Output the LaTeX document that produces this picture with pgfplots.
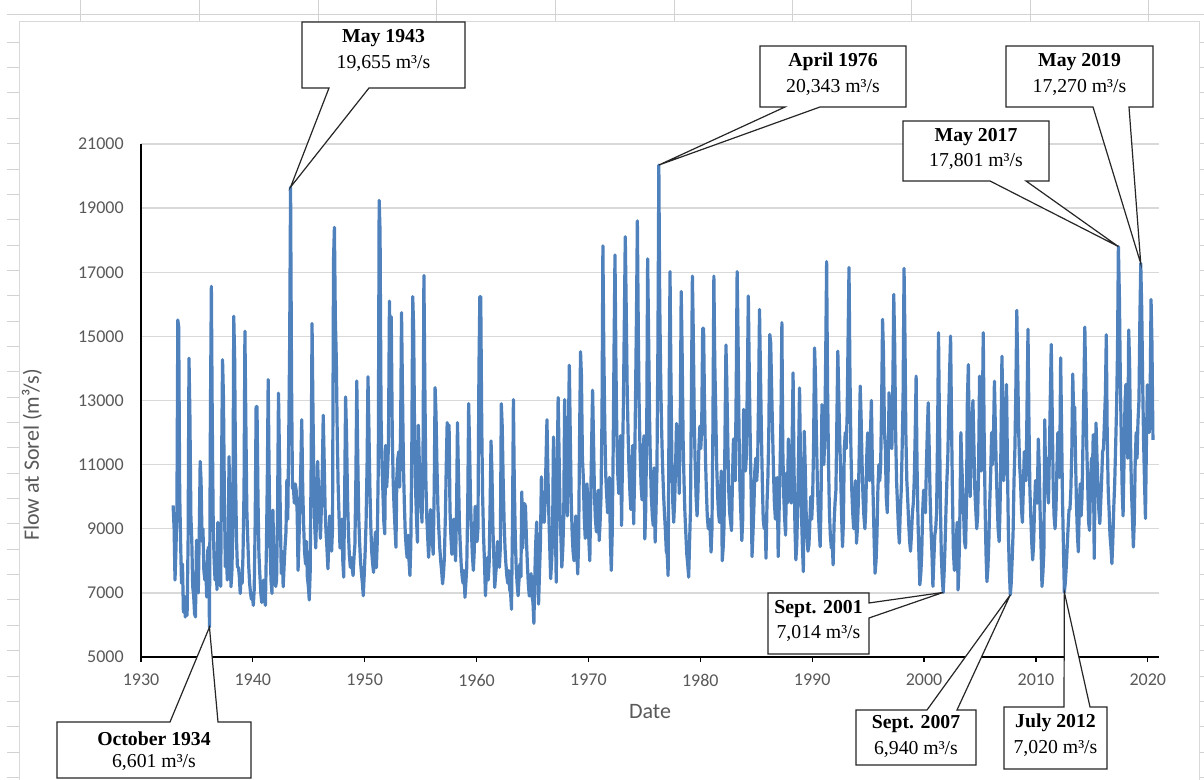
\documentclass[border=0pt]{standalone}
\usepackage{fontspec}
\setmainfont{Carlito}
\newfontfamily\tnr{Liberation Serif}
\usepackage{pgfplots}
\pgfplotsset{compat=1.18}
\definecolor{excelblue}{RGB}{79,129,189}
\definecolor{txtgray}{RGB}{89,89,89}
\definecolor{gridgray}{RGB}{217,217,217}
\definecolor{sheetgray}{RGB}{210,210,210}
\tikzset{callout/.style={draw=black!85, fill=white, line width=0.9pt, line join=miter},
  cotext/.style={font=\tnr\fontsize{14.8}{17}\selectfont, inner sep=0pt}}
\begin{document}
\begin{tikzpicture}[x=0.75pt,y=0.75pt]
\clip (0,0) rectangle (1204,780);
\fill[white] (0,0) rectangle (1204,780);
% spreadsheet cells behind the chart
\draw[sheetgray, line width=0.75pt] (7,765) -- (1204,765);
\foreach \cx in {80.7,199.3,318,436.7,555.3,674,792.7,911.3,1030,1148.7}
  {\draw[sheetgray, line width=0.75pt] (\cx,780) -- (\cx,758);}
\foreach \k in {0,...,29}
  {\pgfmathsetmacro{\ry}{737.7-25.35*\k}
   \draw[sheetgray, line width=0.75pt] (7,\ry) -- (19.5,\ry);
   \draw[sheetgray, line width=0.75pt] (1199,\ry) -- (1204,\ry);}
% chart area
\draw[gridgray, line width=0.75pt, fill=white] (19.5,-5) rectangle (1199,758.3);

\begin{axis}[
  at={(105.75pt,92.25pt)}, anchor=south west,
  scale only axis, width=763.5pt, height=384.75pt,
  xmin=1930, xmax=2021, ymin=5000, ymax=21000,
  axis x line*=bottom, axis y line*=left,
  axis line style={black, line width=0.9pt},
  xtick={1930,1940,...,2020}, ytick={5000,7000,...,21000},
  scaled y ticks=false, scaled x ticks=false,
  xtick align=outside, ytick align=inside,
  major tick length=3.75pt,
  ytick style={draw=none},
  xtick style={black, line width=0.9pt},
  ymajorgrids, grid style={gridgray, line width=1pt},
  /pgf/number format/1000 sep={},
  /pgf/number format/assume math mode=true,
  tick label style={font=\fontsize{13.5}{16}\selectfont, color=txtgray},
  yticklabel style={inner sep=0pt, xshift=-12.75pt},
  xticklabel style={inner sep=0pt, yshift=-9pt},
]
\addplot[excelblue, line width=2.4pt, line join=round, mark=none] coordinates {
(1932.87,9730)(1932.96,9000)
(1933.04,7400)(1933.12,8300)(1933.21,9500)(1933.29,15510)(1933.37,15300)(1933.46,10100)(1933.54,8600)(1933.62,7300)(1933.71,7900)(1933.79,6400)(1933.87,6900)(1933.96,6250)
(1934.04,6500)(1934.12,6300)(1934.21,8600)(1934.29,14320)(1934.37,12600)(1934.46,9400)(1934.54,8640)(1934.62,7200)(1934.71,6900)(1934.79,6350)(1934.87,6250)(1934.96,8640)
(1935.04,7600)(1935.12,7000)(1935.21,8900)(1935.29,11100)(1935.37,10500)(1935.46,8600)(1935.54,9000)(1935.62,7700)(1935.71,7400)(1935.79,7900)(1935.87,6870)(1935.96,8300)
(1936.04,8430)(1936.12,5930)(1936.21,12810)(1936.29,16560)(1936.37,12400)(1936.46,9000)(1936.54,8000)(1936.62,7400)(1936.71,8200)(1936.79,7100)(1936.87,9200)(1936.96,8100)
(1937.04,7600)(1937.12,7200)(1937.21,11250)(1937.29,14270)(1937.37,13120)(1937.46,9800)(1937.54,7810)(1937.62,8600)(1937.71,7400)(1937.79,8200)(1937.87,11250)(1937.96,9000)
(1938.04,7190)(1938.12,7600)(1938.21,9000)(1938.29,15630)(1938.37,14380)(1938.46,10400)(1938.54,8640)(1938.62,7800)(1938.71,7800)(1938.79,7500)(1938.87,6980)(1938.96,7600)
(1939.04,7300)(1939.12,8200)(1939.21,10200)(1939.29,15160)(1939.37,12400)(1939.46,9580)(1939.54,8700)(1939.62,7900)(1939.71,7300)(1939.79,7000)(1939.87,6800)(1939.96,6900)
(1940.04,6610)(1940.12,7100)(1940.21,9300)(1940.29,12810)(1940.37,12810)(1940.46,9900)(1940.54,8220)(1940.62,7600)(1940.71,7000)(1940.79,6700)(1940.87,7000)(1940.96,7400)
(1941.04,6800)(1941.12,6610)(1941.21,8400)(1941.29,10500)(1941.37,13650)(1941.46,10520)(1941.54,8400)(1941.62,7400)(1941.71,6980)(1941.79,9580)(1941.87,8200)(1941.96,7500)
(1942.04,7200)(1942.12,7400)(1942.21,9600)(1942.29,13230)(1942.37,11500)(1942.46,9300)(1942.54,7600)(1942.62,8300)(1942.71,7190)(1942.79,7800)(1942.87,8400)(1942.96,8900)
(1943.04,10520)(1943.12,9300)(1943.21,12000)(1943.29,14790)(1943.37,19655)(1943.46,13500)(1943.54,10260)(1943.62,10300)(1943.71,9800)(1943.79,10400)(1943.87,10200)(1943.96,9500)
(1944.04,7700)(1944.12,8600)(1944.21,9800)(1944.29,11000)(1944.37,12400)(1944.46,10200)(1944.54,9100)(1944.62,8300)(1944.71,7900)(1944.79,8600)(1944.87,7500)(1944.96,7200)
(1945.04,6780)(1945.12,7600)(1945.21,11000)(1945.29,15400)(1945.37,12800)(1945.46,10200)(1945.54,9000)(1945.62,8400)(1945.71,9600)(1945.79,11100)(1945.87,10200)(1945.96,9400)
(1946.04,8700)(1946.12,9600)(1946.21,10800)(1946.29,12540)(1946.37,11200)(1946.46,9600)(1946.54,8900)(1946.62,8400)(1946.71,7750)(1946.79,8600)(1946.87,9400)(1946.96,8800)
(1947.04,8300)(1947.12,9000)(1947.21,17400)(1947.29,18400)(1947.37,15600)(1947.46,14270)(1947.54,12000)(1947.62,10400)(1947.71,9300)(1947.79,8400)(1947.87,8700)(1947.96,9300)
(1948.04,8000)(1948.12,7490)(1948.21,10200)(1948.29,13110)(1948.37,12000)(1948.46,10000)(1948.54,8900)(1948.62,8200)(1948.71,7800)(1948.79,8100)(1948.87,7800)(1948.96,7540)
(1949.04,8100)(1949.12,8500)(1949.21,10600)(1949.29,13610)(1949.37,11400)(1949.46,9400)(1949.54,8600)(1949.62,8000)(1949.71,7600)(1949.79,7300)(1949.87,6910)(1949.96,7600)
(1950.04,8300)(1950.12,9200)(1950.21,11000)(1950.29,13740)(1950.37,12200)(1950.46,10300)(1950.54,9100)(1950.62,8300)(1950.71,7900)(1950.79,7640)(1950.87,8400)(1950.96,8900)
(1951.04,7790)(1951.12,8600)(1951.21,10900)(1951.29,19240)(1951.37,18270)(1951.46,12500)(1951.54,11000)(1951.62,10200)(1951.71,9200)(1951.79,8840)(1951.87,11600)(1951.96,10300)
(1952.04,10800)(1952.12,11600)(1952.21,16100)(1952.29,14200)(1952.37,15610)(1952.46,12000)(1952.54,10500)(1952.62,9700)(1952.71,9000)(1952.79,8420)(1952.87,10600)(1952.96,11200)
(1953.04,11400)(1953.12,10300)(1953.21,12200)(1953.29,15740)(1953.37,13400)(1953.46,11000)(1953.54,9800)(1953.62,8900)(1953.71,8400)(1953.79,8100)(1953.87,8800)(1953.96,8000)
(1954.04,7540)(1954.12,8500)(1954.21,11600)(1954.29,16240)(1954.37,15300)(1954.46,11800)(1954.54,10300)(1954.62,9400)(1954.71,8580)(1954.79,12230)(1954.87,11200)(1954.96,10400)
(1955.04,9800)(1955.12,9200)(1955.21,11200)(1955.29,16900)(1955.37,13600)(1955.46,10600)(1955.54,9400)(1955.62,8800)(1955.71,8110)(1955.79,8700)(1955.87,9600)(1955.96,9200)
(1956.04,8700)(1956.12,8200)(1956.21,10200)(1956.29,13400)(1956.37,12600)(1956.46,10900)(1956.54,9700)(1956.62,9000)(1956.71,8400)(1956.79,8000)(1956.87,7700)(1956.96,7280)
(1957.04,7600)(1957.12,8100)(1957.21,9400)(1957.29,11000)(1957.37,12310)(1957.46,10600)(1957.54,12230)(1957.62,9600)(1957.71,8700)(1957.79,8200)(1957.87,8800)(1957.96,9300)
(1958.04,8600)(1958.12,8000)(1958.21,9600)(1958.29,12310)(1958.37,10800)(1958.46,9200)(1958.54,8500)(1958.62,7900)(1958.71,7500)(1958.79,7300)(1958.87,7700)(1958.96,6860)
(1959.04,7300)(1959.12,7800)(1959.21,9800)(1959.29,12900)(1959.37,11600)(1959.46,9800)(1959.54,8900)(1959.62,8200)(1959.71,7700)(1959.79,8300)(1959.87,9700)(1959.96,9100)
(1960.04,8600)(1960.12,9000)(1960.21,14000)(1960.29,16240)(1960.37,16240)(1960.46,12200)(1960.54,10000)(1960.62,8800)(1960.71,7900)(1960.79,6910)(1960.87,7600)(1960.96,8100)
(1961.04,7400)(1961.12,7900)(1961.21,9800)(1961.29,11740)(1961.37,10800)(1961.46,9000)(1961.54,8100)(1961.62,7170)(1961.71,7600)(1961.79,7900)(1961.87,8600)(1961.96,8200)
(1962.04,7800)(1962.12,8400)(1962.21,12900)(1962.29,12200)(1962.37,10600)(1962.46,9200)(1962.54,8400)(1962.62,7900)(1962.71,7500)(1962.79,7300)(1962.87,7700)(1962.96,7100)
(1963.04,7000)(1963.12,6490)(1963.21,9200)(1963.29,13030)(1963.37,10400)(1963.46,8700)(1963.54,7800)(1963.62,7300)(1963.71,6910)(1963.79,7400)(1963.87,7900)(1963.96,7500)
(1964.04,10150)(1964.12,8400)(1964.21,9780)(1964.29,9780)(1964.37,9700)(1964.46,8600)(1964.54,7900)(1964.62,7300)(1964.71,6900)(1964.79,7200)(1964.87,7600)(1964.96,6900)
(1965.04,6700)(1965.12,6050)(1965.21,7600)(1965.29,8600)(1965.37,9210)(1965.46,7800)(1965.54,6650)(1965.62,7600)(1965.71,8600)(1965.79,10620)(1965.87,9200)(1965.96,9700)
(1966.04,9200)(1966.12,9800)(1966.21,11200)(1966.29,12400)(1966.37,10800)(1966.46,9400)(1966.54,8400)(1966.62,7440)(1966.71,8000)(1966.79,8700)(1966.87,11860)(1966.96,10300)
(1967.04,9100)(1967.12,7330)(1967.21,11000)(1967.29,13090)(1967.37,11400)(1967.46,9500)(1967.54,8700)(1967.62,7800)(1967.71,8400)(1967.79,9400)(1967.87,13030)(1967.96,11000)
(1968.04,10200)(1968.12,9400)(1968.21,12200)(1968.29,14100)(1968.37,12000)(1968.46,9900)(1968.54,8900)(1968.62,8300)(1968.71,8000)(1968.79,8700)(1968.87,9400)(1968.96,8300)
(1969.04,7590)(1969.12,8600)(1969.21,12000)(1969.29,14520)(1969.37,13800)(1969.46,11200)(1969.54,10600)(1969.62,9400)(1969.71,8700)(1969.79,9300)(1969.87,10400)(1969.96,9500)
(1970.04,8600)(1970.12,8000)(1970.21,10100)(1970.29,11800)(1970.37,13320)(1970.46,11600)(1970.54,10000)(1970.62,9300)(1970.71,8900)(1970.79,9500)(1970.87,10200)(1970.96,8630)
(1971.04,9200)(1971.12,10000)(1971.21,12500)(1971.29,17820)(1971.37,14600)(1971.46,12200)(1971.54,10700)(1971.62,10100)(1971.71,9500)(1971.79,9800)(1971.87,10600)(1971.96,8600)
(1972.04,7700)(1972.12,8800)(1972.21,11500)(1972.29,14730)(1972.37,17540)(1972.46,14000)(1972.54,11800)(1972.62,10700)(1972.71,10100)(1972.79,10600)(1972.87,11900)(1972.96,9100)
(1973.04,11200)(1973.12,12800)(1973.21,15600)(1973.29,18110)(1973.37,16000)(1973.46,13400)(1973.54,12000)(1973.62,10900)(1973.71,10100)(1973.79,9600)(1973.87,10900)(1973.96,11600)
(1974.04,9150)(1974.12,10600)(1974.21,13200)(1974.29,15600)(1974.37,18600)(1974.46,15000)(1974.54,12600)(1974.62,11300)(1974.71,10300)(1974.79,9900)(1974.87,11200)(1974.96,11900)
(1975.04,8680)(1975.12,9600)(1975.21,12200)(1975.29,17420)(1975.37,15200)(1975.46,12500)(1975.54,11000)(1975.62,10000)(1975.71,9400)(1975.79,9100)(1975.87,10900)(1975.96,8580)
(1976.04,9600)(1976.12,10800)(1976.21,14800)(1976.29,20343)(1976.37,16100)(1976.46,13600)(1976.54,12100)(1976.62,11000)(1976.71,10100)(1976.79,9500)(1976.87,9000)(1976.96,8300)
(1977.04,8200)(1977.12,7540)(1977.21,13000)(1977.29,17020)(1977.37,13800)(1977.46,11000)(1977.54,9800)(1977.62,9200)(1977.71,9900)(1977.79,11000)(1977.87,12280)(1977.96,11900)
(1978.04,11100)(1978.12,10100)(1978.21,12600)(1978.29,16400)(1978.37,14600)(1978.46,11800)(1978.54,10500)(1978.62,9500)(1978.71,8800)(1978.79,8200)(1978.87,7900)(1978.96,7490)
(1979.04,8600)(1979.12,9600)(1979.21,13600)(1979.29,16880)(1979.37,15100)(1979.46,12300)(1979.54,11000)(1979.62,10000)(1979.71,9400)(1979.79,10200)(1979.87,11500)(1979.96,12200)
(1980.04,11500)(1980.12,12100)(1980.21,15250)(1980.29,15250)(1980.37,13000)(1980.46,11200)(1980.54,10200)(1980.62,9400)(1980.71,9000)(1980.79,9300)(1980.87,9000)(1980.96,8270)
(1981.04,9000)(1981.12,12000)(1981.21,16880)(1981.29,14200)(1981.37,12800)(1981.46,11000)(1981.54,10100)(1981.62,9500)(1981.71,9200)(1981.79,9900)(1981.87,10800)(1981.96,8000)
(1982.04,8400)(1982.12,9100)(1982.21,12100)(1982.29,14730)(1982.37,13500)(1982.46,11600)(1982.54,10200)(1982.62,9500)(1982.71,9200)(1982.79,8940)(1982.87,10500)(1982.96,11800)
(1983.04,11000)(1983.12,10500)(1983.21,13500)(1983.29,17020)(1983.37,15000)(1983.46,12000)(1983.54,10300)(1983.62,9500)(1983.71,8630)(1983.79,9300)(1983.87,12720)(1983.96,11500)
(1984.04,10800)(1984.12,11300)(1984.21,13800)(1984.29,16260)(1984.37,14000)(1984.46,11800)(1984.54,10200)(1984.62,8130)(1984.71,8900)(1984.79,9700)(1984.87,10800)(1984.96,11200)
(1985.04,10500)(1985.12,11000)(1985.21,13200)(1985.29,15840)(1985.37,14000)(1985.46,12000)(1985.54,10500)(1985.62,9300)(1985.71,9000)(1985.79,9400)(1985.87,8080)(1985.96,9800)
(1986.04,10600)(1986.12,12000)(1986.21,15060)(1986.29,14800)(1986.37,13450)(1986.46,12000)(1986.54,10800)(1986.62,9800)(1986.71,9300)(1986.79,9800)(1986.87,10600)(1986.96,8130)
(1987.04,9500)(1987.12,10800)(1987.21,12500)(1987.29,15430)(1987.37,11500)(1987.46,10000)(1987.54,9300)(1987.62,8800)(1987.71,10740)(1987.79,9800)(1987.87,11800)(1987.96,11000)
(1988.04,10200)(1988.12,9800)(1988.21,11800)(1988.29,13860)(1988.37,11000)(1988.46,9000)(1988.54,8030)(1988.62,8500)(1988.71,9800)(1988.79,11500)(1988.87,13390)(1988.96,11000)
(1989.04,9500)(1989.12,8500)(1989.21,7660)(1989.29,12040)(1989.37,11000)(1989.46,9500)(1989.54,8700)(1989.62,8300)(1989.71,8500)(1989.79,9200)(1989.87,10000)(1989.96,9300)
(1990.04,10000)(1990.12,11500)(1990.21,14640)(1990.29,13800)(1990.37,12000)(1990.46,10500)(1990.54,9600)(1990.62,9000)(1990.71,8440)(1990.79,9800)(1990.87,12870)(1990.96,11500)
(1991.04,11000)(1991.12,11800)(1991.21,14500)(1991.29,17330)(1991.37,13500)(1991.46,11000)(1991.54,9500)(1991.62,8800)(1991.71,8400)(1991.79,8600)(1991.87,7870)(1991.96,9200)
(1992.04,9800)(1992.12,10200)(1992.21,12500)(1992.29,14540)(1992.37,13200)(1992.46,11800)(1992.54,10800)(1992.62,9500)(1992.71,8440)(1992.79,9200)(1992.87,11500)(1992.96,12000)
(1993.04,11500)(1993.12,12500)(1993.21,15000)(1993.29,17150)(1993.37,14000)(1993.46,11500)(1993.54,10200)(1993.62,9500)(1993.71,9000)(1993.79,9400)(1993.87,10500)(1993.96,8550)
(1994.04,9000)(1994.12,9800)(1994.21,11500)(1994.29,13450)(1994.37,12500)(1994.46,11000)(1994.54,10000)(1994.62,9400)(1994.71,9000)(1994.79,9600)(1994.87,11200)(1994.96,11990)
(1995.04,11000)(1995.12,10500)(1995.21,12000)(1995.29,13000)(1995.37,11200)(1995.46,9800)(1995.54,8600)(1995.62,7610)(1995.71,8000)(1995.79,8800)(1995.87,10200)(1995.96,11000)
(1996.04,10500)(1996.12,11000)(1996.21,13000)(1996.29,15530)(1996.37,14500)(1996.46,12000)(1996.54,11500)(1996.62,10000)(1996.71,9500)(1996.79,10800)(1996.87,13240)(1996.96,12500)
(1997.04,12000)(1997.12,11500)(1997.21,13500)(1997.29,16310)(1997.37,14800)(1997.46,12000)(1997.54,10500)(1997.62,9800)(1997.71,9000)(1997.79,8550)(1997.87,9500)(1997.96,10200)
(1998.04,11500)(1998.12,13000)(1998.21,17120)(1998.29,15000)(1998.37,12000)(1998.46,10500)(1998.54,9900)(1998.62,9200)(1998.71,8600)(1998.79,8300)(1998.87,8800)(1998.96,9500)
(1999.04,9800)(1999.12,10500)(1999.21,12000)(1999.29,13760)(1999.37,11000)(1999.46,9200)(1999.54,8200)(1999.62,7250)(1999.71,7600)(1999.79,8200)(1999.87,9500)(1999.96,10200)
(2000.04,10000)(2000.12,9500)(2000.21,11000)(2000.29,12000)(2000.37,12930)(2000.46,11500)(2000.54,10000)(2000.62,9000)(2000.71,8200)(2000.79,7200)(2000.87,8000)(2000.96,8800)
(2001.04,9000)(2001.12,9500)(2001.21,12000)(2001.29,15110)(2001.37,12500)(2001.46,9800)(2001.54,8200)(2001.62,7500)(2001.71,7014)(2001.79,7600)(2001.87,8400)(2001.96,9600)
(2002.04,10500)(2002.12,11200)(2002.21,12800)(2002.29,14000)(2002.37,15010)(2002.46,12200)(2002.54,10000)(2002.62,8300)(2002.71,7700)(2002.79,7900)(2002.87,8600)(2002.96,9200)
(2003.04,7090)(2003.12,7800)(2003.21,9600)(2003.29,12000)(2003.37,11000)(2003.46,10200)(2003.54,9400)(2003.62,8600)(2003.71,8400)(2003.79,9800)(2003.87,13000)(2003.96,14120)
(2004.04,11500)(2004.12,10000)(2004.21,11200)(2004.29,12500)(2004.37,13000)(2004.46,11500)(2004.54,10200)(2004.62,9600)(2004.71,9000)(2004.79,9400)(2004.87,10800)(2004.96,13760)
(2005.04,12000)(2005.12,10800)(2005.21,12500)(2005.29,15110)(2005.37,12000)(2005.46,9600)(2005.54,8200)(2005.62,7350)(2005.71,7800)(2005.79,8600)(2005.87,9800)(2005.96,10800)
(2006.04,12000)(2006.12,11000)(2006.21,12000)(2006.29,13600)(2006.37,12200)(2006.46,10800)(2006.54,9800)(2006.62,9000)(2006.71,8600)(2006.79,9600)(2006.87,11500)(2006.96,14380)
(2007.04,12800)(2007.12,10500)(2007.21,11500)(2007.29,12400)(2007.37,13500)(2007.46,10800)(2007.54,8800)(2007.62,7700)(2007.71,6940)(2007.79,7300)(2007.87,8000)(2007.96,8900)
(2008.04,10500)(2008.12,11500)(2008.21,13500)(2008.29,15810)(2008.37,14000)(2008.46,12000)(2008.54,11000)(2008.62,10500)(2008.71,9600)(2008.79,9200)(2008.87,10200)(2008.96,11400)
(2009.04,11000)(2009.12,10500)(2009.21,13000)(2009.29,15220)(2009.37,12500)(2009.46,10200)(2009.54,9400)(2009.62,8600)(2009.71,8030)(2009.79,8500)(2009.87,9600)(2009.96,10500)
(2010.04,10200)(2010.12,9800)(2010.21,11800)(2010.29,11000)(2010.37,9600)(2010.46,8400)(2010.54,7200)(2010.62,7600)(2010.71,8300)(2010.79,12400)(2010.87,10400)(2010.96,11200)
(2011.04,10200)(2011.12,9800)(2011.21,11500)(2011.29,13200)(2011.37,14750)(2011.46,12500)(2011.54,10400)(2011.62,9400)(2011.71,9000)(2011.79,9600)(2011.87,10800)(2011.96,12000)
(2012.04,11000)(2012.12,10600)(2012.21,14330)(2012.29,12200)(2012.37,10000)(2012.46,8400)(2012.54,7020)(2012.62,7300)(2012.71,7800)(2012.79,8400)(2012.87,9000)(2012.96,9600)
(2013.04,9600)(2013.12,10200)(2013.21,11500)(2013.29,13830)(2013.37,12600)(2013.46,12800)(2013.54,11200)(2013.62,9800)(2013.71,8800)(2013.79,8280)(2013.87,9600)(2013.96,10400)
(2014.04,9400)(2014.12,10000)(2014.21,11800)(2014.29,13500)(2014.37,15290)(2014.46,13400)(2014.54,11600)(2014.62,10500)(2014.71,9200)(2014.79,8950)(2014.87,10200)(2014.96,11200)
(2015.04,10500)(2015.12,11930)(2015.21,8070)(2015.29,10600)(2015.37,12300)(2015.46,11200)(2015.54,10400)(2015.62,9600)(2015.71,9160)(2015.79,9800)(2015.87,10500)(2015.96,11400)
(2016.04,11500)(2016.12,12310)(2016.21,13200)(2016.29,15050)(2016.37,12000)(2016.46,10200)(2016.54,9580)(2016.62,8800)(2016.71,8400)(2016.79,7910)(2016.87,8600)(2016.96,9700)
(2017.04,10400)(2017.12,11500)(2017.21,12800)(2017.29,14500)(2017.37,17801)(2017.46,16250)(2017.54,13800)(2017.62,12000)(2017.71,10200)(2017.79,9400)(2017.87,11000)(2017.96,12900)
(2018.04,13500)(2018.12,12000)(2018.21,11200)(2018.29,15200)(2018.37,14200)(2018.46,11600)(2018.54,10200)(2018.62,9400)(2018.71,8430)(2018.79,9200)(2018.87,11000)(2018.96,12000)
(2019.04,11200)(2019.12,12340)(2019.21,13000)(2019.29,15500)(2019.37,17270)(2019.46,15800)(2019.54,13600)(2019.62,11800)(2019.71,10400)(2019.79,9320)(2019.87,11500)(2019.96,13490)
(2020.04,12600)(2020.12,12000)(2020.21,13200)(2020.29,16150)(2020.37,14800)(2020.46,11770)
};
\coordinate (t1943) at (axis cs:1943.37,19655);
\coordinate (t1976) at (axis cs:1976.29,20343);
\coordinate (t2017) at (axis cs:2017.37,17801);
\coordinate (t2019) at (axis cs:2019.37,17270);
\coordinate (t1934) at (axis cs:1936.12,5930);
\coordinate (t2001) at (axis cs:2001.71,7014);
\coordinate (t2007) at (axis cs:2007.71,6940);
\coordinate (t2012) at (axis cs:2012.54,7020);
\end{axis}

% axis titles
\node[font=\fontsize{16.5}{20}\selectfont, color=txtgray] at (650,68) {Date};
\node[rotate=90, font=\fontsize{16.5}{20}\selectfont, color=txtgray] at (32,325) {Flow at Sorel (m³/s)};

% callouts
\draw[callout] (302,758) -- (465,758) -- (465,692) -- (369,692) -- (t1943) -- (329,692) -- (302,692) -- cycle;
\node[cotext] at (383.5,742) {\bfseries May 1943};
\node[cotext] at (383.5,717) {19,655 m³/s};

\draw[callout] (760,734) -- (906,734) -- (906,673) -- (820,673) -- (t1976) -- (785,673) -- (760,673) -- cycle;
\node[cotext] at (833,718) {\bfseries April 1976};
\node[cotext] at (833,693) {20,343 m³/s};

\draw[callout] (1006,734) -- (1153,734) -- (1153,673) -- (1129,673) -- (t2019) -- (1093,673) -- (1006,673) -- cycle;
\node[cotext] at (1079.5,718) {\bfseries May 2019};
\node[cotext] at (1079.5,693) {17,270 m³/s};

\draw[callout] (903,659) -- (1049,659) -- (1049,599) -- (1026,599) -- (t2017) -- (990,599) -- (903,599) -- cycle;
\node[cotext] at (976,643) {\bfseries May 2017};
\node[cotext] at (976,619) {17,801 m³/s};

\draw[callout] (57,58) -- (170,58) -- (t1934) -- (218,58) -- (251,58) -- (251,2) -- (57,2) -- cycle;
\node[cotext] at (154,41) {\bfseries October 1934};
\node[cotext] at (154,18) {6,601 m³/s};

\draw[callout] (768,187) -- (869,187) -- (869,177) -- (t2001) -- (869,162) -- (869,126) -- (768,126) -- cycle;
\node[cotext] at (818.5,171) {\bfseries Sept. 2001};
\node[cotext] at (818.5,147) {7,014 m³/s};

\draw[callout] (856,70) -- (927,70) -- (t2007) -- (957,70) -- (976,70) -- (976,15) -- (856,15) -- cycle;
\node[cotext] at (916,56) {\bfseries Sept. 2007};
\node[cotext] at (916,31) {6,940 m³/s};

\draw[callout] (1004,73) -- (1064,73) -- (t2012) -- (1090,73) -- (1107,73) -- (1107,11) -- (1004,11) -- cycle;
\node[cotext] at (1055.5,57) {\bfseries July 2012};
\node[cotext] at (1055.5,32) {7,020 m³/s};
\end{tikzpicture}
\end{document}
